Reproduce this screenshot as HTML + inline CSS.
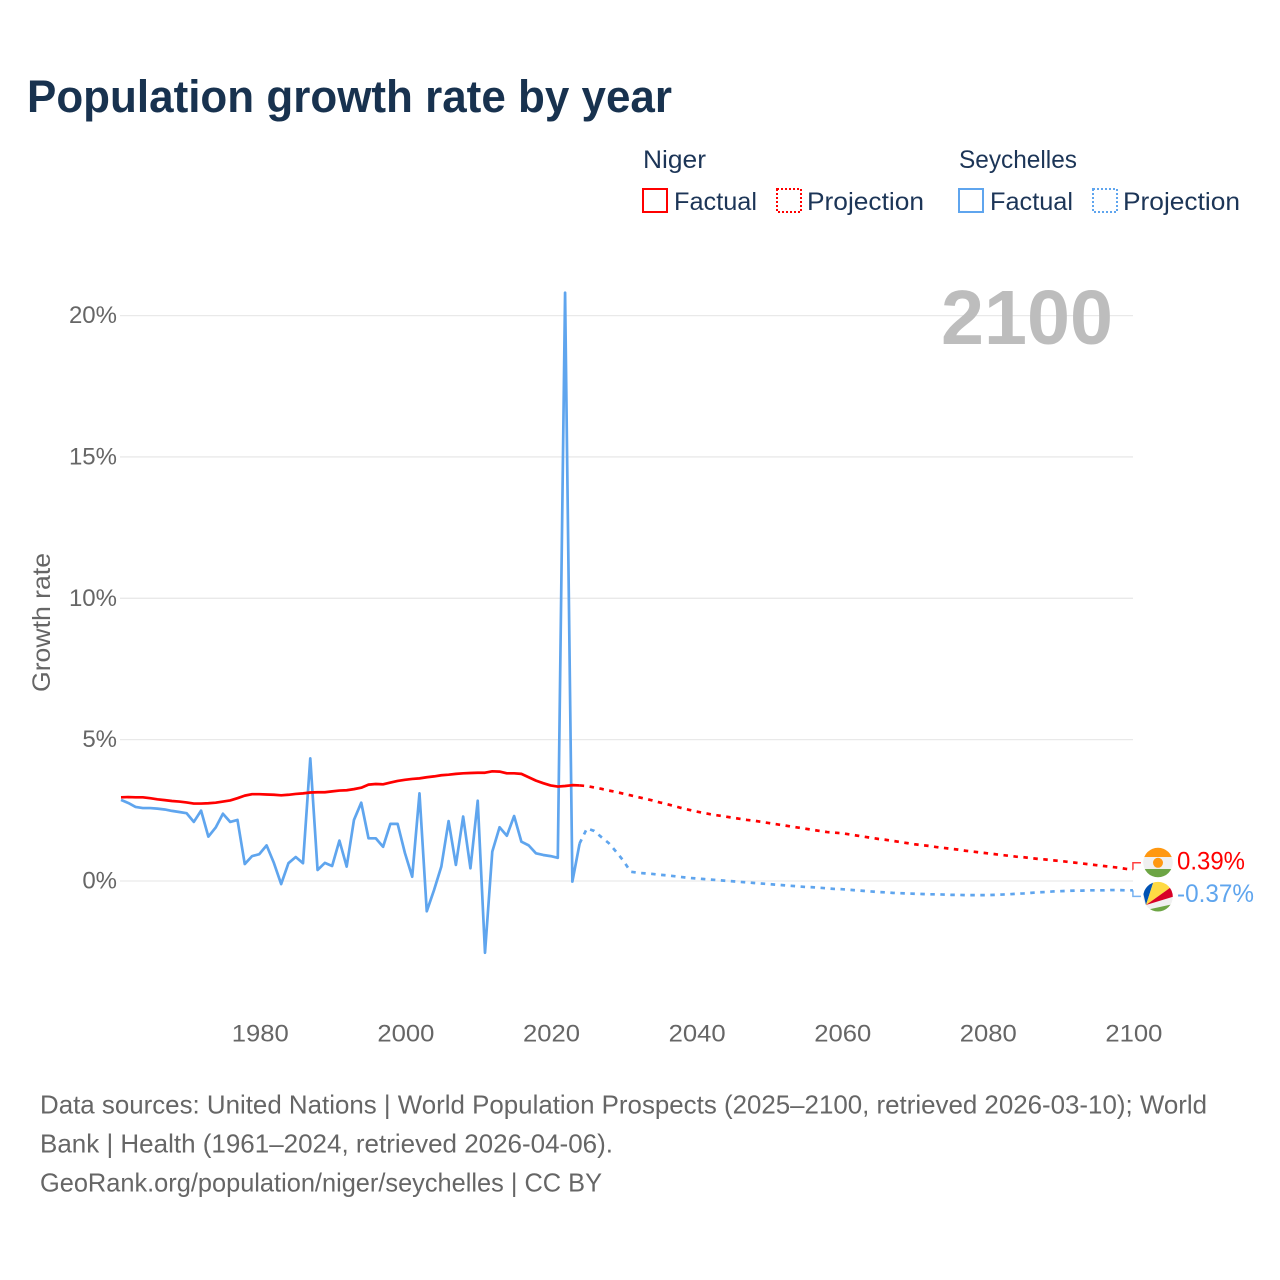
<!DOCTYPE html>
<html lang="en">
<head>
<meta charset="utf-8">
<title>Population growth rate by year</title>
<style>
html,body{margin:0;padding:0;background:#fff;}
svg{display:block;font-family:"Liberation Sans",sans-serif;}
</style>
</head>
<body>
<svg id="chart" width="1280" height="1280" viewBox="0 0 1280 1280" xmlns="http://www.w3.org/2000/svg">
  <defs>
    <clipPath id="flag-clip-ne"><circle cx="1158" cy="862.5" r="14.8"/></clipPath>
    <clipPath id="flag-clip-sc"><circle cx="1158" cy="896.7" r="14.8"/></clipPath>
  </defs>
  <text x="27" y="112" font-size="45" font-weight="700" fill="#18324f" textLength="645" lengthAdjust="spacingAndGlyphs">Population growth rate by year</text>

  <g>
    <text x="643" y="168" font-size="25" fill="#1c3557" textLength="63" lengthAdjust="spacingAndGlyphs">Niger</text>
    <rect x="643" y="189" width="24" height="23" fill="none" stroke="#ff0000" stroke-width="2"/>
    <text x="674" y="210" font-size="25" fill="#1c3557" textLength="83" lengthAdjust="spacingAndGlyphs">Factual</text>
    <rect x="777" y="189" width="24" height="23" fill="none" stroke="#ff0000" stroke-width="2" stroke-dasharray="2 2"/>
    <text x="807" y="210" font-size="25" fill="#1c3557" textLength="117" lengthAdjust="spacingAndGlyphs">Projection</text>
    <text x="959" y="168" font-size="25" fill="#1c3557" textLength="118" lengthAdjust="spacingAndGlyphs">Seychelles</text>
    <rect x="959" y="189" width="24" height="23" fill="none" stroke="#5fa5ee" stroke-width="2"/>
    <text x="990" y="210" font-size="25" fill="#1c3557" textLength="83" lengthAdjust="spacingAndGlyphs">Factual</text>
    <rect x="1093" y="189" width="24" height="23" fill="none" stroke="#5fa5ee" stroke-width="2" stroke-dasharray="2 2"/>
    <text x="1123" y="210" font-size="25" fill="#1c3557" textLength="117" lengthAdjust="spacingAndGlyphs">Projection</text>
  </g>

  <g id="grid"></g>
  <g id="y-ticks"></g>
  <g id="x-ticks"></g>

  <text x="1113" y="344" text-anchor="end" font-size="77" font-weight="700" fill="#bdbdbd" textLength="172" lengthAdjust="spacingAndGlyphs">2100</text>
  <text transform="translate(50 692) rotate(-90)" font-size="25" fill="#666666" textLength="139" lengthAdjust="spacingAndGlyphs">Growth rate</text>

  <g id="series"></g>

  <g clip-path="url(#flag-clip-ne)">
    <rect x="1143" y="847" width="30" height="10" fill="#ff9811"/>
    <rect x="1143" y="857" width="30" height="12" fill="#f0f0f0"/>
    <rect x="1143" y="869" width="30" height="10" fill="#6da544"/>
    <circle cx="1158" cy="862.8" r="5" fill="#ff9811"/>
  </g>
  <g clip-path="url(#flag-clip-sc)">
    <rect x="1143" y="881" width="31" height="31" fill="#f0f0f0"/>
    <polygon points="1146,905 1140,880 1154,880" fill="#0052b4"/>
    <polygon points="1146,905 1154,880 1176,880 1176,883.6" fill="#ffda44"/>
    <polygon points="1146,905 1176,883.6 1176,895.8" fill="#d80027"/>
    <polygon points="1146,910 1176,903.5 1176,914 1146,914" fill="#6da544"/>
  </g>
  <g id="end-labels"></g>

  <g font-size="26" fill="#666666">
    <text x="40" y="1113.5" textLength="1167" lengthAdjust="spacingAndGlyphs">Data sources: United Nations | World Population Prospects (2025–2100, retrieved 2026-03-10); World</text>
    <text x="40" y="1152.5" textLength="573" lengthAdjust="spacingAndGlyphs">Bank | Health (1961–2024, retrieved 2026-04-06).</text>
    <text x="40" y="1191.5" textLength="562" lengthAdjust="spacingAndGlyphs">GeoRank.org/population/niger/seychelles | CC BY</text>
  </g>
</svg>

<script>
const factualStartYear = 1961;
const projectionStartYear = 2025;
const yTickValues = [0, 5, 10, 15, 20];
const xTickYears = [1980, 2000, 2020, 2040, 2060, 2080, 2100];
const nigerEndLabel = "0.39%";
const seychellesEndLabel = "-0.37%";

const nigerFactual = [2.96,2.97,2.96,2.96,2.93,2.89,2.86,2.83,2.81,2.78,2.74,2.74,2.75,2.77,2.81,2.85,2.93,3.02,3.07,3.07,3.06,3.05,3.03,3.05,3.08,3.10,3.13,3.14,3.14,3.17,3.20,3.21,3.25,3.30,3.41,3.43,3.42,3.48,3.54,3.58,3.61,3.63,3.67,3.70,3.74,3.76,3.79,3.81,3.82,3.83,3.83,3.88,3.87,3.81,3.81,3.79,3.67,3.55,3.46,3.38,3.34,3.36,3.39,3.38];

const seychellesFactual = [2.87,2.76,2.62,2.58,2.58,2.56,2.53,2.48,2.44,2.40,2.09,2.49,1.57,1.89,2.38,2.09,2.16,0.60,0.88,0.95,1.26,0.64,-0.11,0.63,0.85,0.63,4.34,0.39,0.64,0.53,1.43,0.51,2.16,2.77,1.51,1.51,1.21,2.02,2.02,0.99,0.15,3.10,-1.07,-0.32,0.51,2.12,0.57,2.28,0.45,2.84,-2.54,1.04,1.90,1.60,2.30,1.39,1.26,0.98,0.92,0.88,0.82,20.81,-0.02,1.33];

const nigerProjection = [3.36,3.31,3.26,3.20,3.15,3.09,3.03,2.97,2.91,2.85,2.78,2.72,2.65,2.58,2.52,2.46,2.41,2.36,2.32,2.28,2.24,2.20,2.16,2.13,2.09,2.05,2.01,1.97,1.93,1.89,1.85,1.81,1.77,1.73,1.71,1.69,1.65,1.61,1.57,1.53,1.49,1.46,1.42,1.38,1.34,1.30,1.27,1.24,1.20,1.17,1.14,1.11,1.07,1.04,1.01,0.98,0.95,0.92,0.89,0.86,0.84,0.81,0.78,0.76,0.73,0.71,0.68,0.65,0.62,0.59,0.56,0.53,0.50,0.47,0.43,0.40];

const seychellesProjection = [1.86,1.77,1.55,1.34,1.04,0.72,0.33,0.29,0.27,0.25,0.22,0.20,0.17,0.14,0.11,0.09,0.07,0.05,0.03,0.01,-0.01,-0.03,-0.05,-0.07,-0.09,-0.11,-0.13,-0.15,-0.17,-0.19,-0.21,-0.22,-0.24,-0.26,-0.28,-0.29,-0.31,-0.33,-0.35,-0.37,-0.39,-0.40,-0.42,-0.43,-0.44,-0.45,-0.46,-0.47,-0.47,-0.48,-0.49,-0.49,-0.50,-0.50,-0.50,-0.50,-0.49,-0.48,-0.47,-0.45,-0.44,-0.42,-0.40,-0.39,-0.37,-0.36,-0.35,-0.34,-0.34,-0.33,-0.33,-0.33,-0.32,-0.32,-0.33,-0.33];

const SVGNS = "http://www.w3.org/2000/svg";
function xScale(year) { return 121 + 7.28 * (year - 1961); }
function yScale(value) { return 881 - 28.27 * value; }
function make(tag, attrs, parent) {
  const el = document.createElementNS(SVGNS, tag);
  for (const k in attrs) el.setAttribute(k, attrs[k]);
  parent.appendChild(el);
  return el;
}
function pathFrom(years, values) {
  return values.map(function (v, i) {
    return (i ? "L" : "M") + xScale(years[i]).toFixed(2) + " " + yScale(v).toFixed(2);
  }).join(" ");
}
function yearsFrom(start, count) {
  const out = [];
  for (let i = 0; i < count; i++) out.push(start + i);
  return out;
}

const gridG = document.getElementById("grid");
const yTickG = document.getElementById("y-ticks");
yTickValues.forEach(function (v) {
  const line = make("line", { x1: 120, x2: 1133, y1: yScale(v), y2: yScale(v), stroke: "#e9e9e9", "stroke-width": 1.3 }, gridG);
  
  
  const t = make("text", { x: 117, y: yScale(v) + 7.5, "text-anchor": "end", "font-size": 24, fill: "#666666" }, yTickG);
  
  
  t.textContent = v + "%";
});

const xTickG = document.getElementById("x-ticks");
xTickYears.forEach(function (yr) {
  const t = make("text", { x: xScale(yr) + 1, y: 1041.5, "text-anchor": "middle", "font-size": 24, fill: "#666666", textLength: 57, lengthAdjust: "spacingAndGlyphs" }, xTickG);
  
  
  t.textContent = yr;
});

const seriesG = document.getElementById("series");
const RED = "#ff0000";
const BLUE = "#5fa5ee";

function drawLine(values, startYear, color, dashed, prepend) {
  let years = yearsFrom(startYear, values.length);
  let vals = values;
  if (prepend !== undefined) {
    years = [startYear - 1].concat(years);
    vals = [prepend].concat(values);
  }
  const p = make("path", { d: pathFrom(years, vals), fill: "none", stroke: color, "stroke-width": 2.7, "stroke-linejoin": "round" }, seriesG);
  if (dashed) p.setAttribute("stroke-dasharray", "4.5 5.5");
  return p;
}

const seychellesFactualLine = drawLine(seychellesFactual, factualStartYear, BLUE, false);


const seychellesProjectionLine = drawLine(seychellesProjection, projectionStartYear, BLUE, true, seychellesFactual[seychellesFactual.length - 1]);


const nigerFactualLine = drawLine(nigerFactual, factualStartYear, RED, false);


const nigerProjectionLine = drawLine(nigerProjection, projectionStartYear, RED, true, nigerFactual[nigerFactual.length - 1]);



const endG = document.getElementById("end-labels");
const endX = xScale(2100);
const nigerEndY = yScale(nigerProjection[nigerProjection.length - 1]);
const seychellesEndY = yScale(seychellesProjection[seychellesProjection.length - 1]);

const nigerConnector = make("path", { d: "M" + endX + " " + nigerEndY + " V" + (nigerEndY - 7) + " H" + (endX + 8), fill: "none", stroke: RED, "stroke-width": 1.5, opacity: 0.75 }, endG);


const seychellesConnector = make("path", { d: "M" + endX + " " + seychellesEndY + " V" + (seychellesEndY + 6) + " H" + (endX + 8), fill: "none", stroke: BLUE, "stroke-width": 1.5, opacity: 0.85 }, endG);



const nigerValue = make("text", { x: 1177, y: nigerEndY, "font-size": 25, fill: RED, textLength: 68, lengthAdjust: "spacingAndGlyphs" }, endG);


nigerValue.textContent = nigerEndLabel;
const seychellesValue = make("text", { x: 1177, y: seychellesEndY + 11.5, "font-size": 25, fill: BLUE, textLength: 77, lengthAdjust: "spacingAndGlyphs" }, endG);


seychellesValue.textContent = seychellesEndLabel;
</script>
</body>
</html>
